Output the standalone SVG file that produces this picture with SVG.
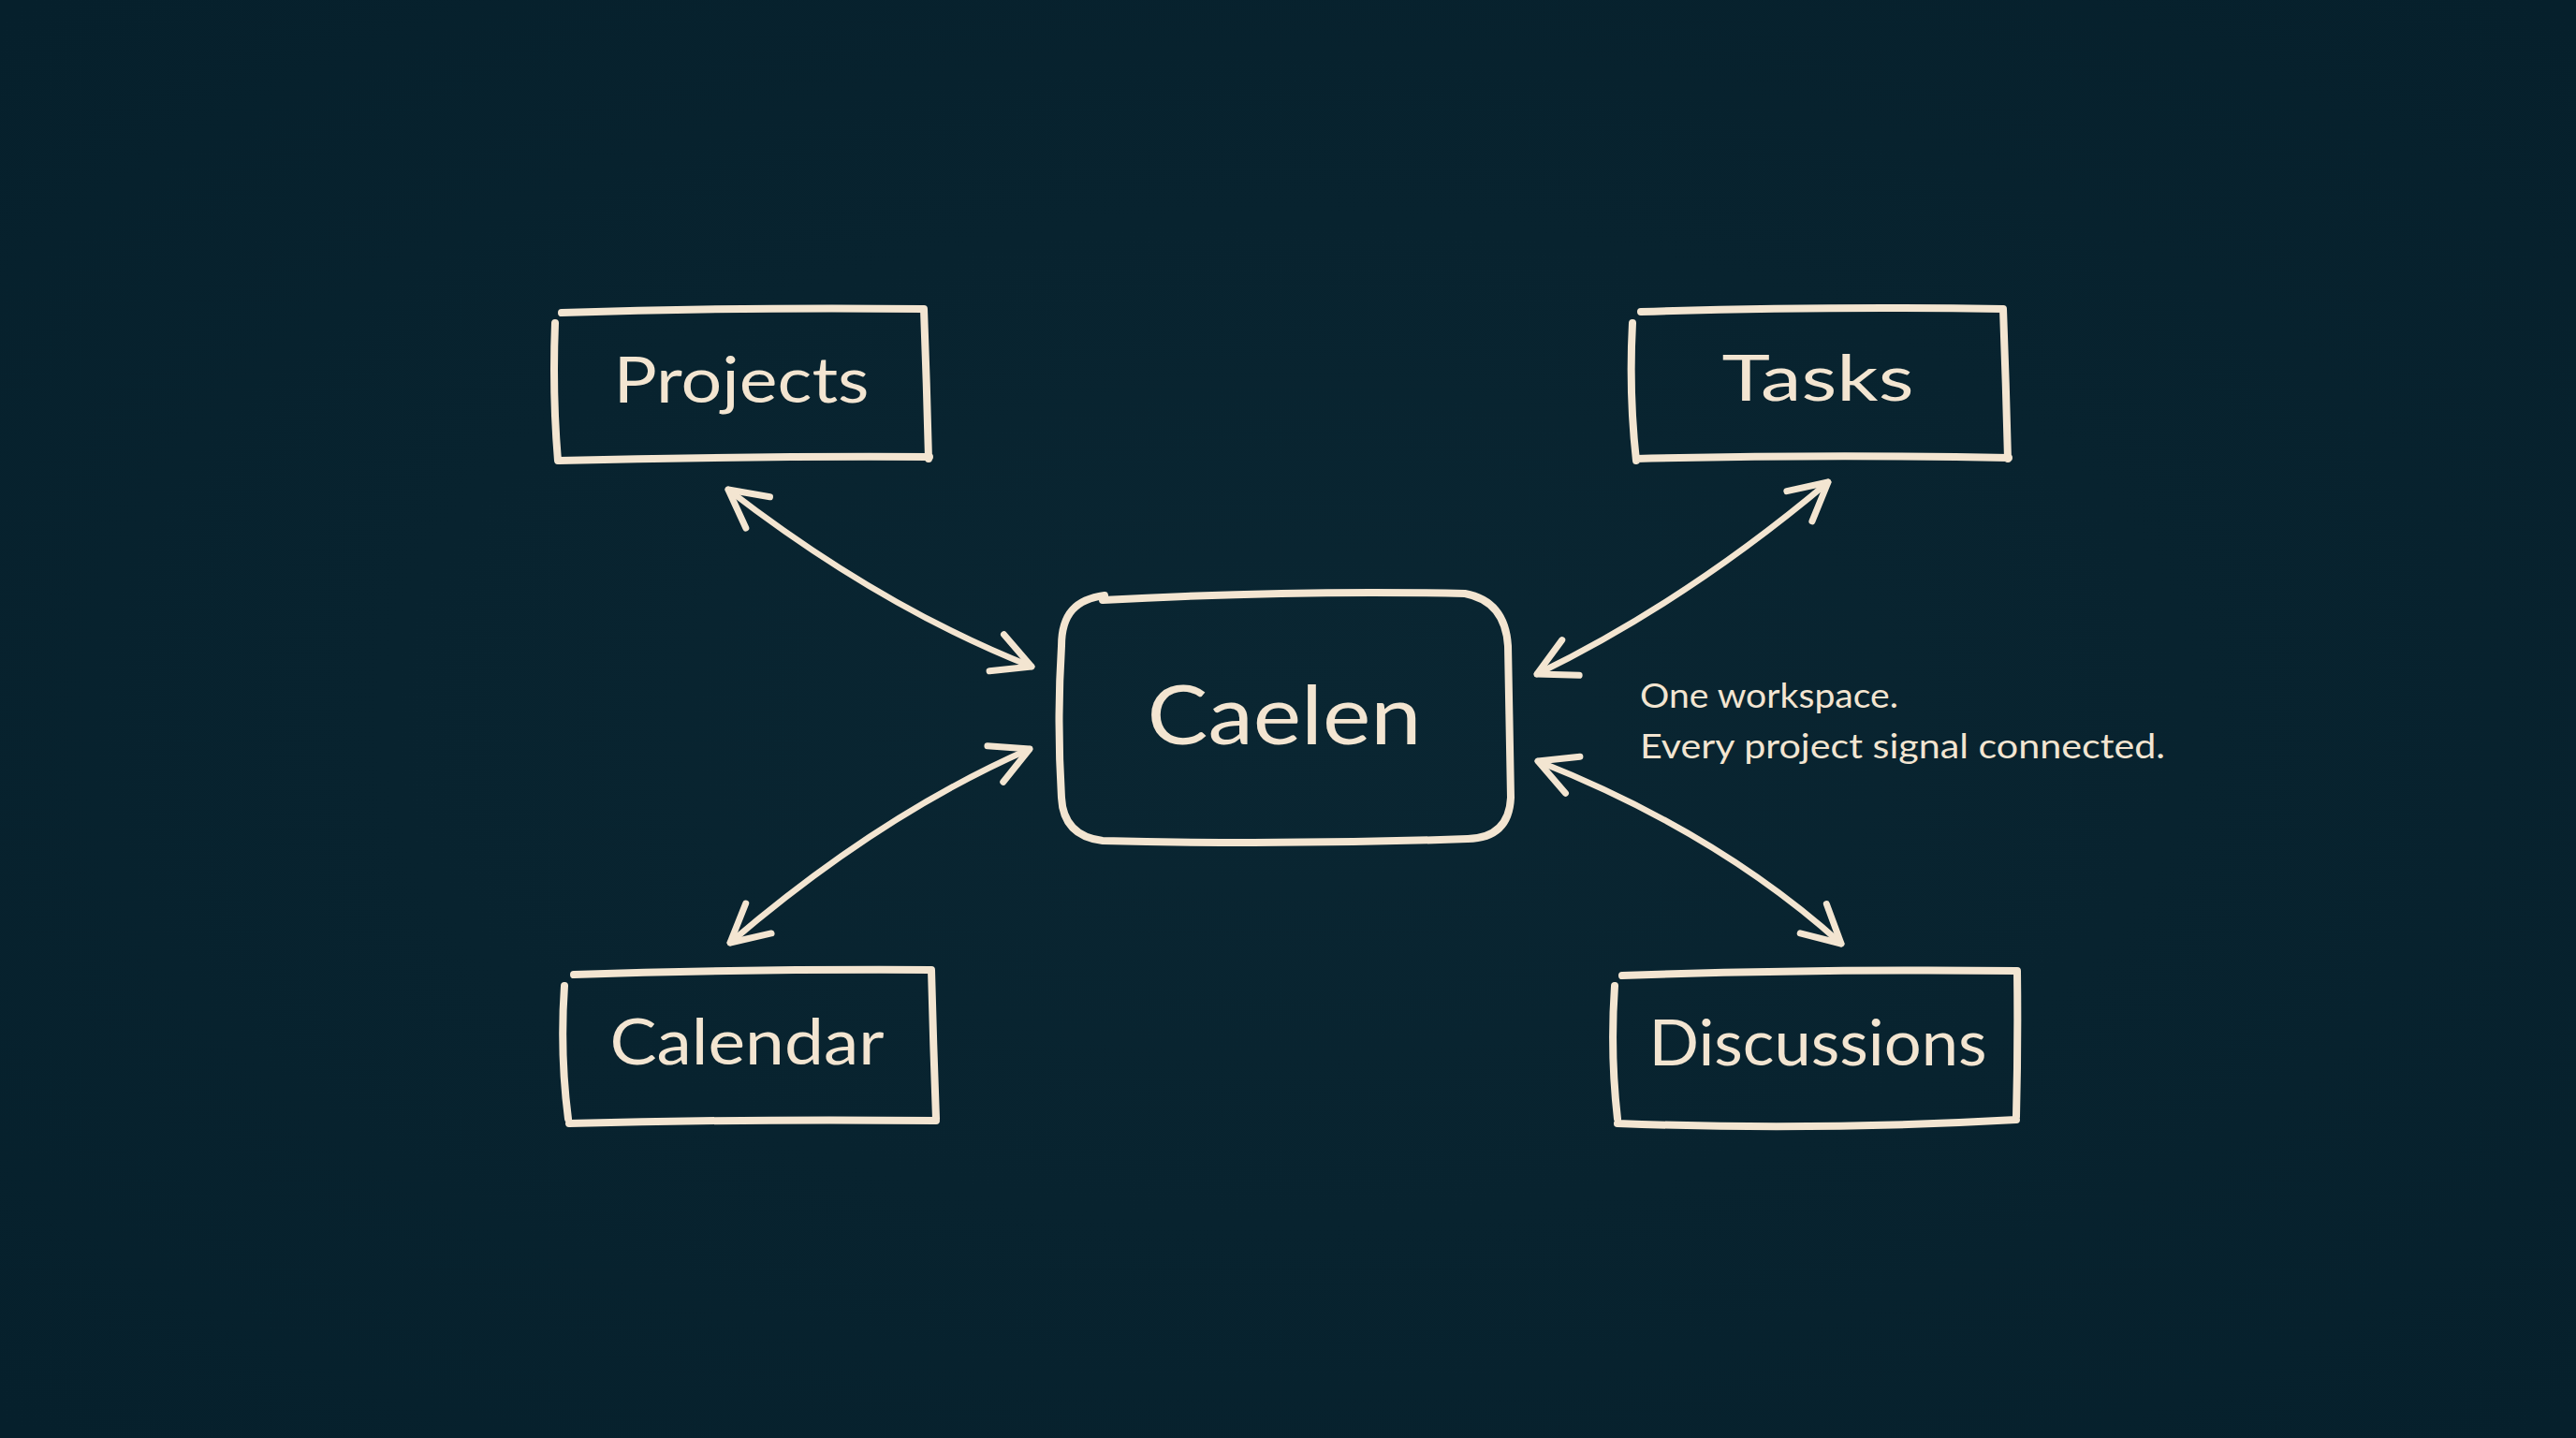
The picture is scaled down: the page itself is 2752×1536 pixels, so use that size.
<svg xmlns="http://www.w3.org/2000/svg" width="2752" height="1536" viewBox="0 0 2752 1536">
  <defs>
    <radialGradient id="bg" cx="50%" cy="50%" r="70%">
      <stop offset="0" stop-color="#0a2632"/>
      <stop offset="1" stop-color="#06202c"/>
    </radialGradient>
    <marker id="arr" markerUnits="userSpaceOnUse" viewBox="-60 -40 70 80" markerWidth="70" markerHeight="80" refX="0" refY="0" orient="auto-start-reverse" overflow="visible">
      <path d="M-40,-21 L0,0 L-40,21" fill="none" stroke="#f3e5d1" stroke-width="7" stroke-linecap="round" stroke-linejoin="round"/>
    </marker>
    <style>
      .edge { fill: none; stroke: #f3e5d1; stroke-width: 8; stroke-linecap: round; stroke-linejoin: round; }
      .conn { fill: none; stroke: #f3e5d1; stroke-width: 6.5; stroke-linecap: round; marker-start: url(#arr); marker-end: url(#arr); }
      .label { font-family: Lato, "Open Sans", sans-serif; fill: #f3e5d1; text-anchor: middle; font-size: 68px; }
      .main { font-size: 88px; }
      .note { font-family: Lato, "Open Sans", sans-serif; fill: #f3e5d1; font-size: 36px; }
    </style>
  </defs>
  <rect width="2752" height="1536" fill="url(#bg)"/>

  <g id="connectors">
    <path class="conn" d="M778,523 Q940,648 1102,712"/>
    <path class="conn" d="M780,1007 Q940,870 1100,800"/>
    <path class="conn" d="M1953,515 Q1802,642 1642,720"/>
    <path class="conn" d="M1643,813 Q1835,889 1967,1008"/>
  </g>

  <g id="node-projects">
    <path class="edge" d="M600,334 Q790,328 987,330 M987,330 Q990,410 992,490 M593,345 Q590,420 596,492 M597,492 Q800,487 993,488"/>
    <text class="label" x="792" y="430" textLength="273" lengthAdjust="spacingAndGlyphs">Projects</text>
  </g>

  <g id="node-tasks">
    <path class="edge" d="M1753,333 Q1950,327 2140,330 M2140,330 Q2143,410 2145,490 M1744,345 Q1740,420 1748,492 M1748,490 Q1950,485 2146,489"/>
    <text class="label" x="1942" y="428" textLength="205" lengthAdjust="spacingAndGlyphs">Tasks</text>
  </g>

  <g id="node-caelen">
    <path class="edge" d="M1180,636 C1150,640 1134,655 1134,690 M1178,641 Q1380,630 1565,634 Q1608,642 1611,690 L1614,852 Q1612,895 1568,896 Q1370,903 1178,898 Q1136,893 1134,852 Q1129,770 1134,690"/>
    <text class="label main" x="1372" y="795" textLength="293" lengthAdjust="spacingAndGlyphs">Caelen</text>
  </g>

  <g id="node-calendar">
    <path class="edge" d="M613,1041 Q800,1035 995,1036 M995,1036 Q997,1115 1000,1195 M603,1053 Q598,1125 607,1195 M608,1200 Q800,1195 1000,1197"/>
    <text class="label" x="798" y="1137" textLength="293" lengthAdjust="spacingAndGlyphs">Calendar</text>
  </g>

  <g id="node-discussions">
    <path class="edge" d="M1733,1042 Q1940,1035 2155,1037 M2155,1037 Q2156,1115 2154,1193 M1725,1053 Q1720,1125 1728,1195 M1728,1200 Q1940,1208 2154,1196"/>
    <text class="label" x="1942" y="1138" textLength="361" lengthAdjust="spacingAndGlyphs">Discussions</text>
  </g>

  <g id="annotation">
    <text class="note" x="1752" y="756" textLength="276" lengthAdjust="spacingAndGlyphs">One workspace.</text>
    <text class="note" x="1752" y="810" textLength="561" lengthAdjust="spacingAndGlyphs">Every project signal connected.</text>
  </g>
</svg>
